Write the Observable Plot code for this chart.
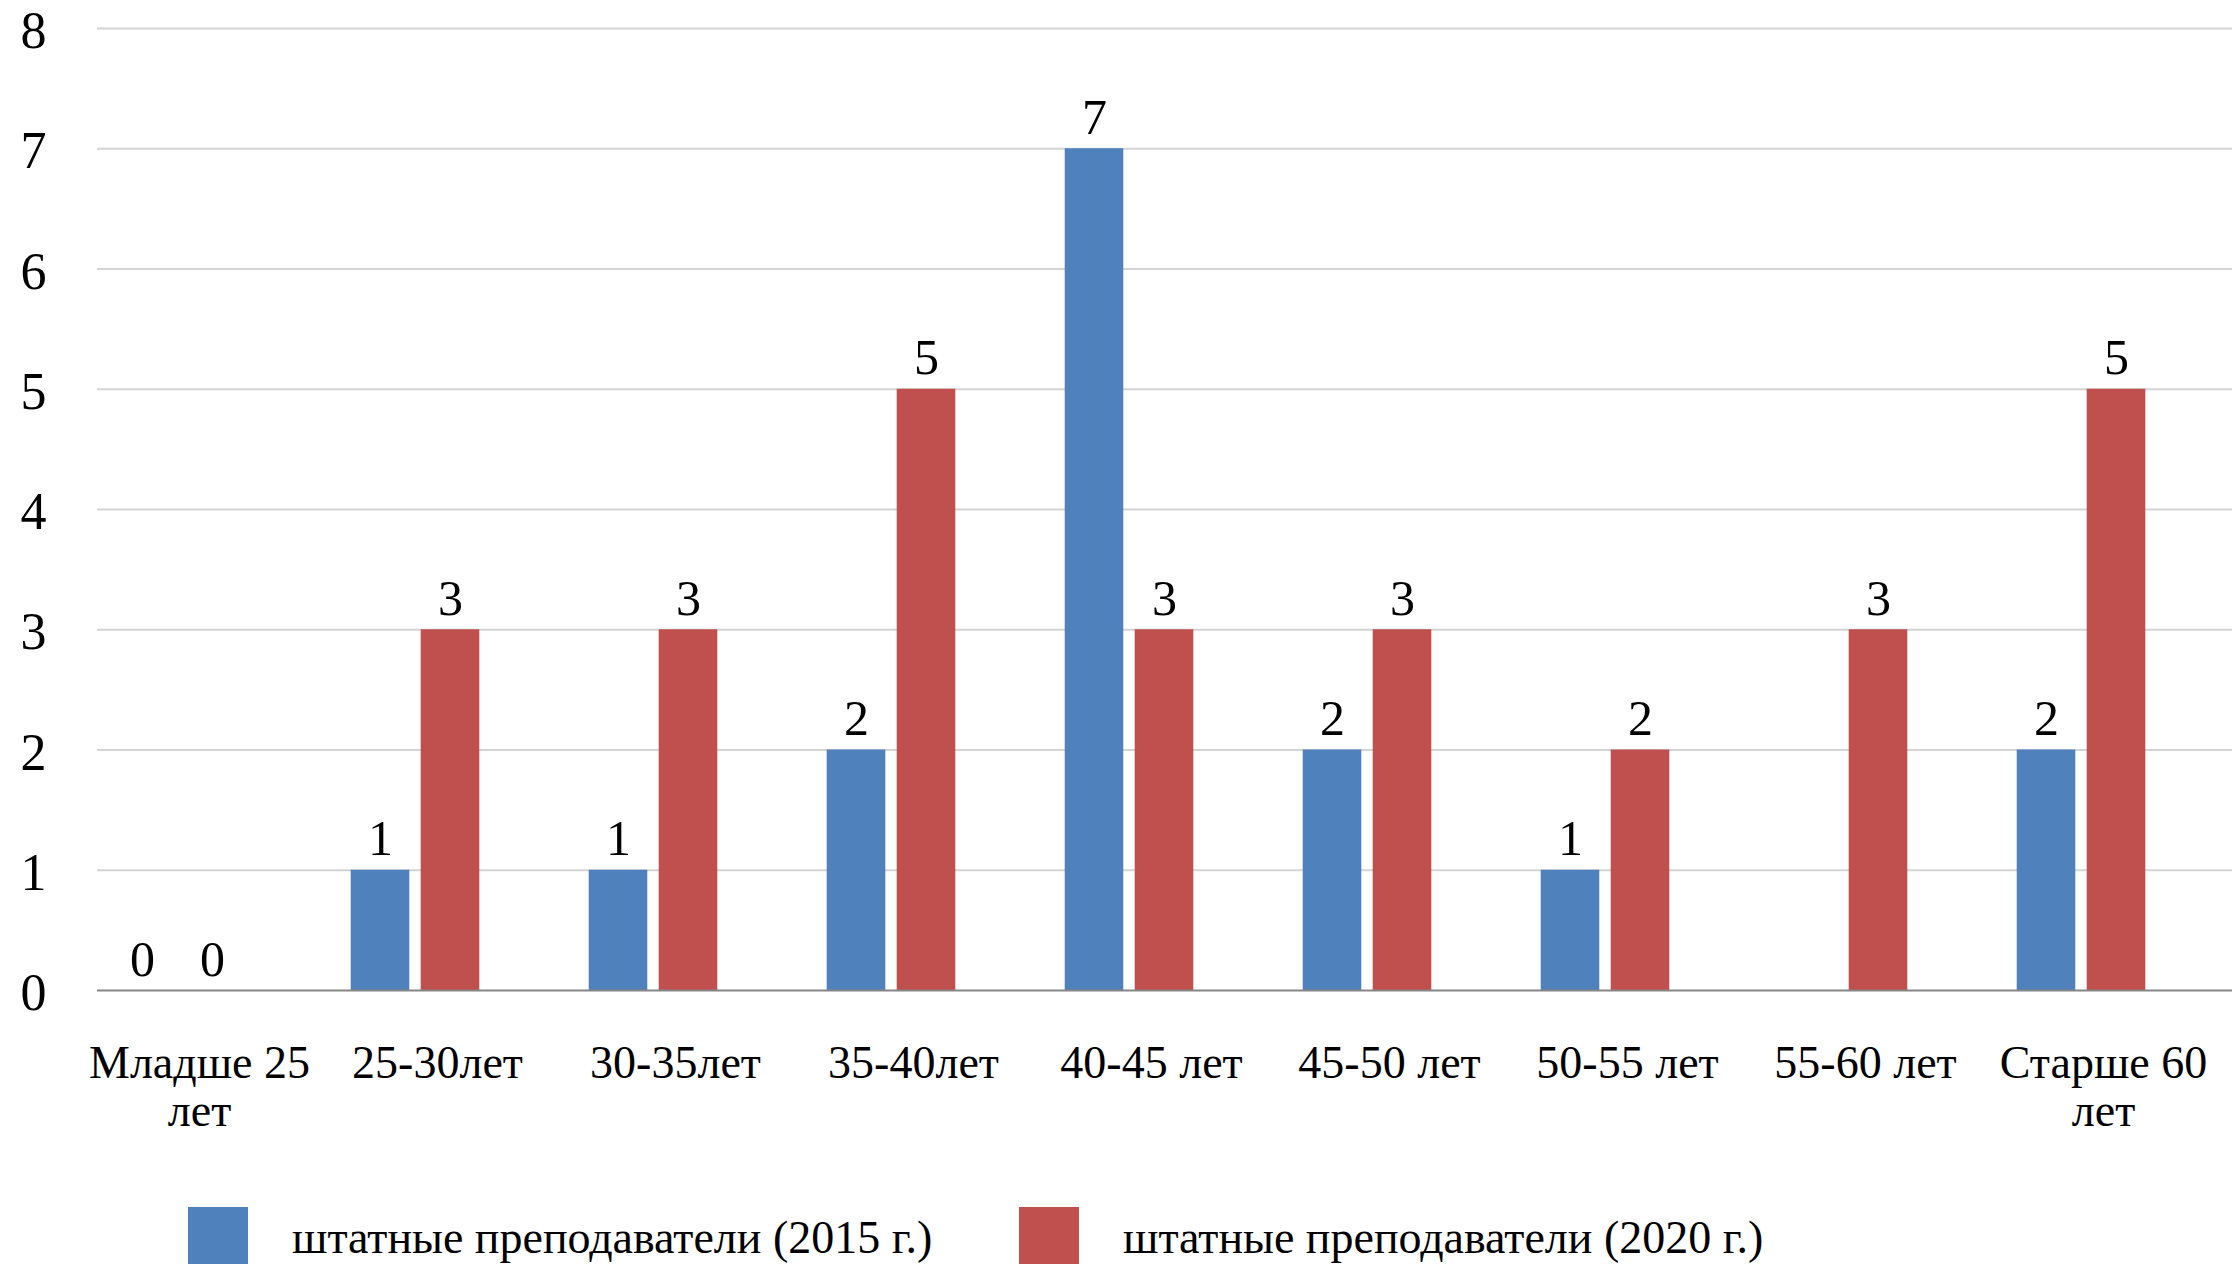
<!DOCTYPE html>
<html>
<head>
<meta charset="utf-8">
<script src="https://cdn.jsdelivr.net/npm/d3@7"></script>
<script src="https://cdn.jsdelivr.net/npm/@observablehq/plot@0.6"></script>
<style>
  html, body { margin: 0; padding: 0; background: #fff; }
  #chart { position: relative; width: 2232px; }
  #legend { position: relative; height: 69px; font-family: "Liberation Serif", serif; font-size: 46px; color: #000; }
  .item { position: absolute; top: 12px; display: flex; align-items: center; height: 60px; white-space: nowrap; }
  .swatch { width: 60px; height: 60px; margin-right: 44px; }
</style>
</head>
<body>
<div id="chart"></div>
<script>
const categories = ["Младше 25 лет", "25-30лет", "30-35лет", "35-40лет", "40-45 лет", "45-50 лет", "50-55 лет", "55-60 лет", "Старше 60 лет"];
const tickLabels = ["Младше 25\nлет", "25-30лет", "30-35лет", "35-40лет", "40-45 лет", "45-50 лет", "50-55 лет", "55-60 лет", "Старше 60\nлет"];
const seriesNames = ["штатные преподаватели (2015 г.)", "штатные преподаватели (2020 г.)"];
const values2015 = [0, 1, 1, 2, 7, 2, 1, null, 2];
const values2020 = [0, 3, 3, 5, 3, 3, 2, 3, 5];
const colors = ["#4F81BD", "#C0504D"];
const yTicks = [0, 1, 2, 3, 4, 5, 6, 7, 8];

const rows2015 = categories.map((c, i) => ({category: c, value: values2015[i]})).filter(d => d.value != null);
const rows2020 = categories.map((c, i) => ({category: c, value: values2020[i]})).filter(d => d.value != null);
const labelOf = new Map(categories.map((c, i) => [c, tickLabels[i]]));

const font = "Liberation Serif, serif";

const chart = Plot.plot({
  width: 2232,
  height: 1195,
  marginLeft: 97,
  marginRight: 0,
  marginTop: 28,
  marginBottom: 205,
  style: {fontFamily: font, background: "#fff", color: "#000"},
  x: {domain: categories, range: [56, 2202], padding: 0, label: null},
  y: {domain: [0, 8], label: null},
  marks: [
    Plot.ruleY(yTicks.filter(t => t > 0), {stroke: "#d4d4d4", strokeWidth: 2}),
    Plot.barY(rows2015, {x: "category", y: "value", fill: colors[0], insetLeft: 54.7, insetRight: 124.7}),
    Plot.barY(rows2020, {x: "category", y: "value", fill: colors[1], insetLeft: 124.7, insetRight: 54.7}),
    Plot.ruleY([0], {stroke: "#868686", strokeWidth: 2}),
    Plot.text(rows2015, {x: "category", y: "value", text: d => String(d.value), dx: -35, dy: -15, lineAnchor: "bottom", fontSize: 50, fill: "#000"}),
    Plot.text(rows2020, {x: "category", y: "value", text: d => String(d.value), dx: 35, dy: -15, lineAnchor: "bottom", fontSize: 50, fill: "#000"}),
    Plot.axisY({ticks: yTicks, tickSize: 0, tickPadding: 51, fontSize: 52, dy: 3, label: null, tickFormat: d => String(d)}),
    Plot.axisX({tickSize: 0, tickPadding: 54, fontSize: 46, dx: 22, lineHeight: 1.04, label: null, tickFormat: d => labelOf.get(d)})
  ]
});
document.getElementById("chart").appendChild(chart);

const legend = document.createElement("div");
legend.id = "legend";
const lefts = [188, 1019];
seriesNames.forEach((name, i) => {
  const item = document.createElement("div");
  item.className = "item";
  item.style.left = lefts[i] + "px";
  const sw = document.createElement("div");
  sw.className = "swatch";
  sw.style.background = colors[i];
  const t = document.createElement("span");
  t.textContent = name;
  item.appendChild(sw);
  item.appendChild(t);
  legend.appendChild(item);
});
document.body.appendChild(legend);
</script>
</body>
</html>
